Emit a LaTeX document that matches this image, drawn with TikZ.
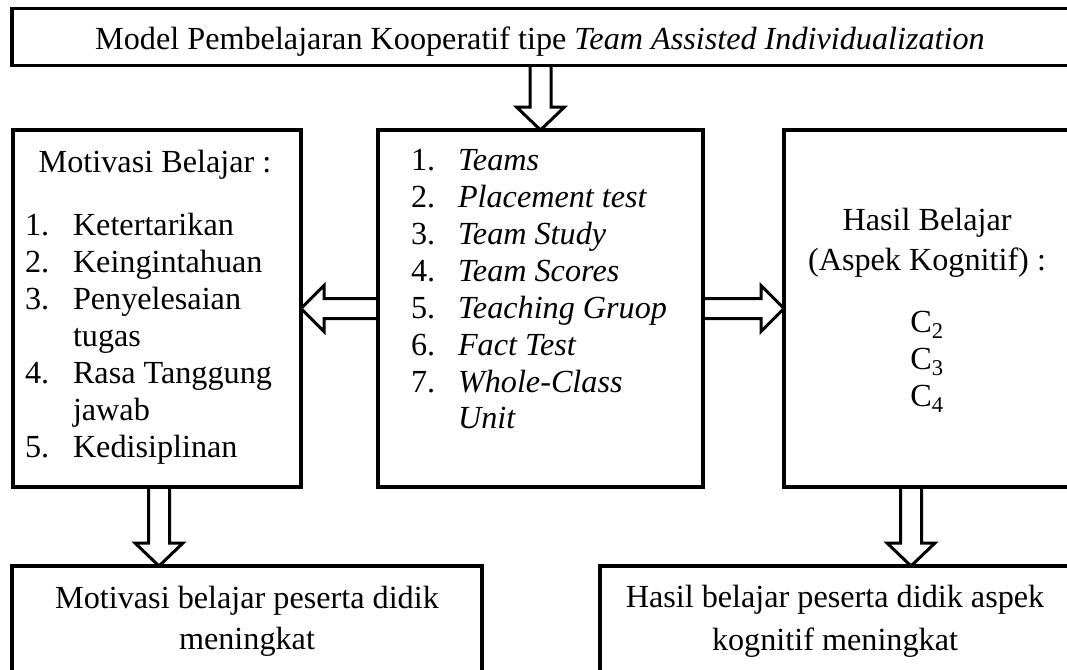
\documentclass[tikz,border=0pt]{standalone}
\usepackage{fontspec}
\setmainfont{Liberation Serif}
\usetikzlibrary{calc}
\newcommand{\hdown}[2]{\draw[hollow] ($(#1)+(-10.5,0)$) -- ($(#2)+(-10.5,-23)$) -- ($(#2)+(-24,-23)$) -- (#2) -- ($(#2)+(24,-23)$) -- ($(#2)+(10.5,-23)$) -- ($(#1)+(10.5,0)$);}
\newcommand{\hleft}[2]{\draw[hollow] ($(#1)+(0,-10)$) -- ($(#2)+(23,-10)$) -- ($(#2)+(23,-23)$) -- (#2) -- ($(#2)+(23,23)$) -- ($(#2)+(23,10)$) -- ($(#1)+(0,10)$);}
\newcommand{\hright}[2]{\draw[hollow] ($(#1)+(0,-10)$) -- ($(#2)+(-23,-10)$) -- ($(#2)+(-23,-23)$) -- (#2) -- ($(#2)+(-23,23)$) -- ($(#2)+(-23,10)$) -- ($(#1)+(0,10)$);}
\begin{document}
\begin{tikzpicture}[x=1pt,y=-1pt,
  box/.style={draw, line width=3.5pt, inner sep=0pt, outer sep=0pt, rectangle},
  txt/.style={inner sep=0pt, outer sep=0pt, font=\fontsize{32.2}{38}\selectfont},
  hollow/.style={draw, line width=3pt, line join=miter}]
\useasboundingbox (0,0) rectangle (1067,669);
\begin{scope}
\clip (0,0) rectangle (1067,669);
% boxes
\node[box, minimum width=1060pt, minimum height=57pt] (top) at (542,37) {};
\node[box, minimum width=288pt, minimum height=357pt] (left) at (157,308.5) {};
\node[box, minimum width=325pt, minimum height=357pt] (mid) at (540.5,308.5) {};
\node[box, minimum width=286pt, minimum height=357pt] (right) at (927,308.5) {};
\node[box, minimum width=470pt, minimum height=134pt] (botL) at (247,633) {};
\node[box, minimum width=472pt, minimum height=134pt] (botR) at (836,633) {};
% arrows
\coordinate (a1s) at (top.south -| mid.north);
\hdown{a1s}{mid.north}
\hleft{mid.west}{left.east}
\hright{mid.east}{right.west}
\coordinate (a4s) at ($(left.south)+(2,0)$);
\coordinate (a4t) at (botL.north -| a4s);
\hdown{a4s}{a4t}
\coordinate (a5s) at ($(right.south)+(-16,0)$);
\coordinate (a5t) at (botR.north -| a5s);
\hdown{a5s}{a5t}
% texts
\node[txt, anchor=base] (ttop) at (540,49) {Model Pembelajaran Kooperatif tipe \textit{Team Assisted Individualization}};
% left box
\node[txt, anchor=base] (lhead) at (155,172) {Motivasi Belajar :};
\node[txt, anchor=base west] (ln1) at (25,235) {1.};
\node[txt, anchor=base west] (lt1) at (73,235) {Ketertarikan};
\node[txt, anchor=base west] (ln2) at (25,272) {2.};
\node[txt, anchor=base west] (lt2) at (73,272) {Keingintahuan};
\node[txt, anchor=base west] (ln3) at (25,309) {3.};
\node[txt, anchor=base west] (lt3) at (73,309) {Penyelesaian};
\node[txt, anchor=base west] (lt3b) at (73,346) {tugas};
\node[txt, anchor=base west] (ln4) at (25,383) {4.};
\node[txt, anchor=base west] (lt4) at (73,383) {Rasa Tanggung};
\node[txt, anchor=base west] (lt4b) at (73,420) {jawab};
\node[txt, anchor=base west] (ln5) at (25,457) {5.};
\node[txt, anchor=base west] (lt5) at (73,457) {Kedisiplinan};
% middle box
\node[txt, anchor=base west] (mn1) at (411,170.5) {1.};
\node[txt, anchor=base west] (mt1) at (458,170.5) {\textit{Teams}};
\node[txt, anchor=base west] (mn2) at (411,207) {2.};
\node[txt, anchor=base west] (mt2) at (458,207) {\textit{Placement test}};
\node[txt, anchor=base west] (mn3) at (411,244) {3.};
\node[txt, anchor=base west] (mt3) at (458,244) {\textit{Team Study}};
\node[txt, anchor=base west] (mn4) at (411,281) {4.};
\node[txt, anchor=base west] (mt4) at (458,281) {\textit{Team Scores}};
\node[txt, anchor=base west] (mn5) at (411,318) {5.};
\node[txt, anchor=base west] (mt5) at (458,318) {\textit{Teaching Gruop}};
\node[txt, anchor=base west] (mn6) at (411,355) {6.};
\node[txt, anchor=base west] (mt6) at (458,355) {\textit{Fact Test}};
\node[txt, anchor=base west] (mn7) at (411,392) {7.};
\node[txt, anchor=base west] (mt7) at (458,392) {\textit{Whole-Class}};
\node[txt, anchor=base west] (mt7b) at (458,428) {\textit{Unit}};
% right box
\node[txt, anchor=base] (rh1) at (927,230) {Hasil Belajar};
\node[txt, anchor=base] (rh2) at (927,270) {(Aspek Kognitif) :};
\node[txt, anchor=base] (rc2) at (927,332) {C\textsubscript{2}};
\node[txt, anchor=base] (rc3) at (927,369) {C\textsubscript{3}};
\node[txt, anchor=base] (rc4) at (927,406) {C\textsubscript{4}};
% bottom boxes
\node[txt, anchor=base] (bl1) at (247,608) {Motivasi belajar peserta didik};
\node[txt, anchor=base] (bl2) at (247,649) {meningkat};
\node[txt, anchor=base] (br1) at (835,607) {Hasil belajar peserta didik aspek};
\node[txt, anchor=base] (br2) at (835,650) {kognitif meningkat};
\end{scope}
\end{tikzpicture}
\end{document}
